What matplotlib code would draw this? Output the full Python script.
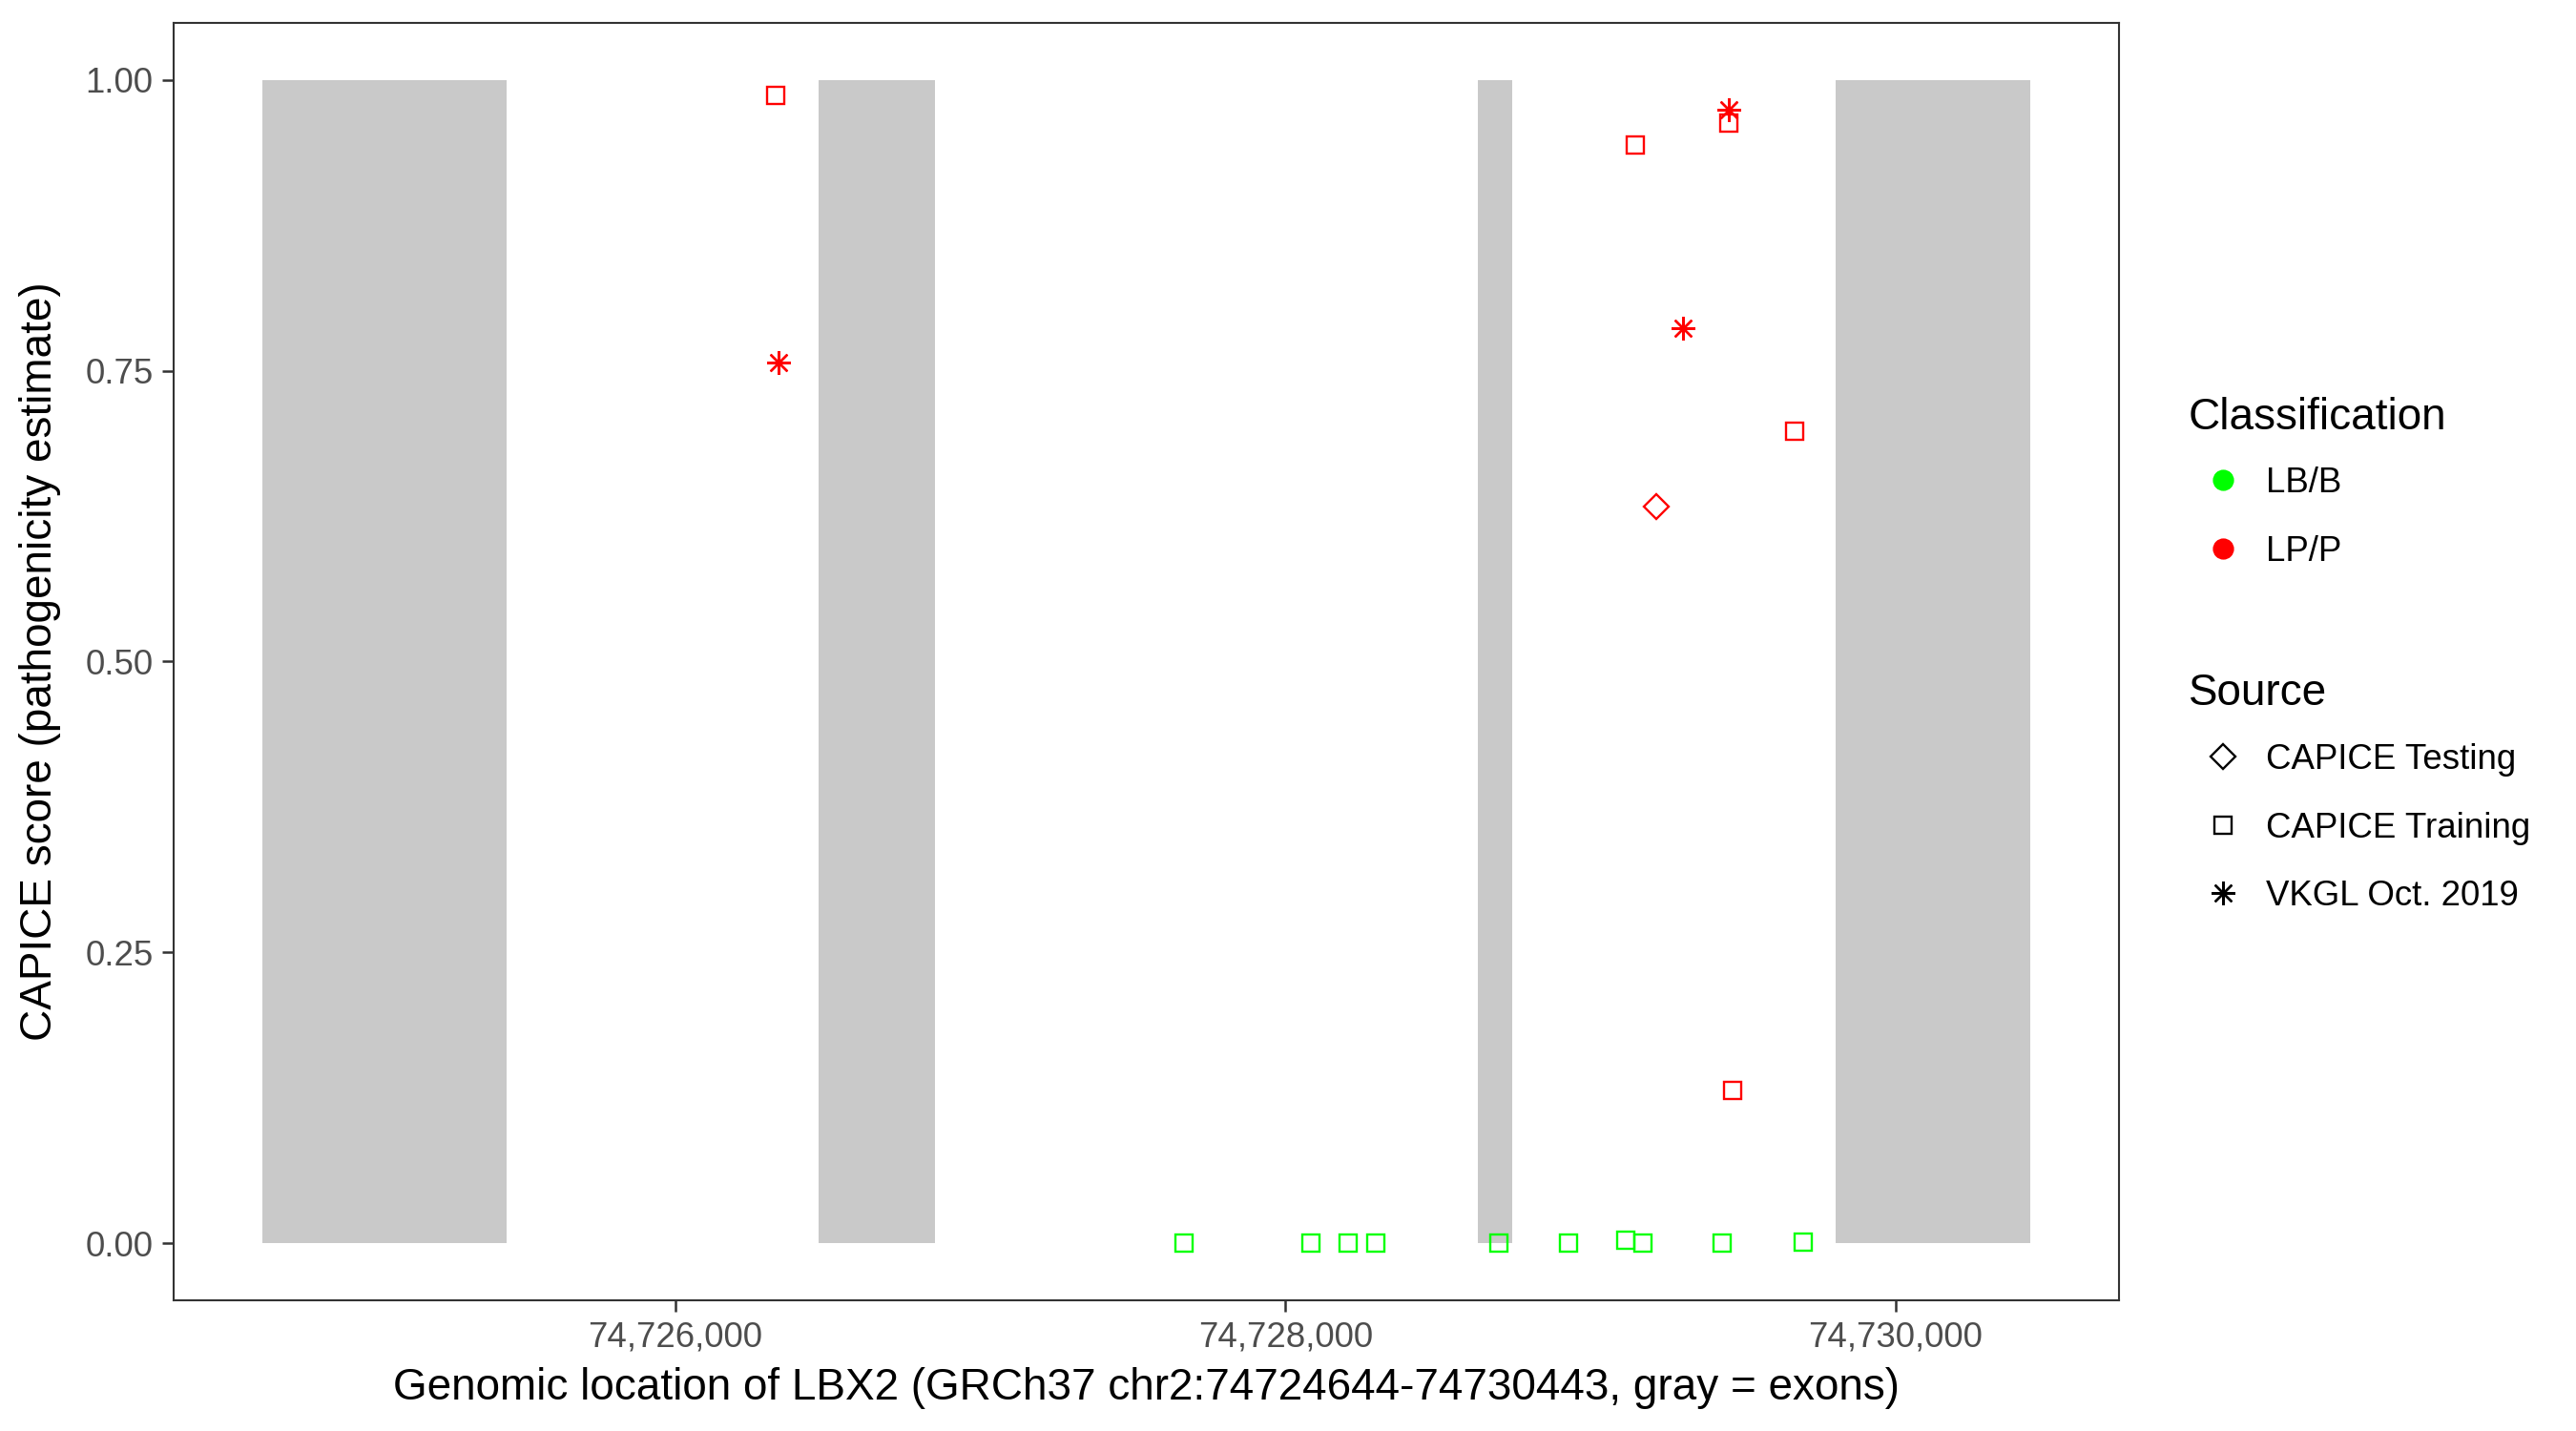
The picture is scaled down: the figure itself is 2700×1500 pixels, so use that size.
import matplotlib
matplotlib.use("Agg")
import matplotlib.pyplot as plt
from matplotlib.lines import Line2D
from matplotlib.ticker import FuncFormatter

plt.rcParams['font.family'] = ['Liberation Sans', 'DejaVu Sans']

# Exons (gray rectangles)
exon_start = [74724644, 74726468, 74728631, 74729803]
exon_end = [74725447, 74726850, 74728744, 74730443]

# Variants
lb_pos = [74727667, 74728082, 74728205, 74728296, 74728701, 74728929,
          74729117, 74729171, 74729430, 74729696]
lb_score = [0.0, 0.0, 0.0, 0.0, 0.0, 0.0, 0.003, 0.0, 0.0, 0.001]
lb_source = ["CAPICE Training"] * 10

lp_pos = [74726329, 74729147, 74729454, 74729668, 74729465,
          74726339, 74729304, 74729453, 74729216]
lp_score = [0.987, 0.944, 0.963, 0.698, 0.131,
            0.757, 0.787, 0.974, 0.633]
lp_source = ["CAPICE Training"] * 5 + ["VKGL Oct. 2019"] * 3 + ["CAPICE Testing"]

x_ticks = [74726000, 74728000, 74730000]
y_ticks = [0.0, 0.25, 0.5, 0.75, 1.0]

class_colors = {"LB/B": "#00FF00", "LP/P": "#FF0000"}
source_markers = {"CAPICE Testing": "D", "CAPICE Training": "s", "VKGL Oct. 2019": (8, 2, 0)}
marker_sizes = {"CAPICE Testing": 6.4, "CAPICE Training": 6.4, "VKGL Oct. 2019": 9.0}

TITLE = 16.5
TEXT = 13.2

fig = plt.figure(figsize=(13.5, 7.5), dpi=200)
ax = fig.add_axes([182 / 2700, 137 / 1500, (2221 - 182) / 2700, (1363 - 24) / 1500])

for s, e in zip(exon_start, exon_end):
    ax.fill_between([s, e], [0, 0], [1, 1], color="#C9C9C9", linewidth=0, zorder=1)

def draw(pos, score, source, color):
    for src in source_markers:
        xs = [p for p, q in zip(pos, source) if q == src]
        ys = [v for v, q in zip(score, source) if q == src]
        if xs:
            ax.plot(xs, ys, linestyle="none", marker=source_markers[src],
                    markersize=marker_sizes[src], markerfacecolor="none",
                    markeredgecolor=color, markeredgewidth=0.85, color=color, zorder=3)

draw(lb_pos, lb_score, lb_source, class_colors["LB/B"])
draw(lp_pos, lp_score, lp_source, class_colors["LP/P"])

span = exon_end[-1] - exon_start[0]
ax.set_xlim(exon_start[0] - 0.05 * span, exon_end[-1] + 0.05 * span)
ax.set_ylim(-0.049, 1.049)
ax.set_xticks(x_ticks)
ax.set_yticks(y_ticks)
ax.xaxis.set_major_formatter(FuncFormatter(lambda v, p: f"{int(v):,}"))
ax.yaxis.set_major_formatter(FuncFormatter(lambda v, p: f"{v:.2f}"))
ax.tick_params(axis="both", labelsize=TEXT, colors="#333333", labelcolor="#4D4D4D",
               length=4.4, width=0.9, pad=3.3)
for sp in ax.spines.values():
    sp.set_color("#333333")
    sp.set_linewidth(0.75)

ax.set_xlabel("Genomic location of LBX2 (GRCh37 chr2:74724644-74730443, gray = exons)",
              fontsize=TITLE, color="black", labelpad=4.9)
ax.set_ylabel("CAPICE score (pathogenicity estimate)", fontsize=TITLE, color="black", labelpad=9)

# Legend titles as text, legend entries as legends
fig.text(2294 / 2700, 1 - 438 / 1500, "Classification", fontsize=TITLE,
         ha="left", va="center", color="black")
fig.text(2294 / 2700, 1 - 727 / 1500, "Source", fontsize=TITLE,
         ha="left", va="center", color="black")

common = dict(loc="upper left", frameon=False, fontsize=TEXT, labelspacing=1.0,
              handletextpad=0.25, handlelength=1.96, borderpad=0, borderaxespad=0)
h1 = [Line2D([], [], linestyle="none", marker="o", markersize=7,
             markerfacecolor=c, markeredgecolor=c) for c in class_colors.values()]
leg1 = fig.legend(h1, list(class_colors.keys()),
                  bbox_to_anchor=(2294 / 2700, 1 - 489 / 1500), **common)
h2 = [Line2D([], [], linestyle="none", marker=source_markers[k],
             markersize=marker_sizes[k], markerfacecolor="none",
             markeredgecolor="black", markeredgewidth=0.85) for k in source_markers]
leg2 = fig.legend(h2, list(source_markers.keys()),
                  bbox_to_anchor=(2294 / 2700, 1 - 779 / 1500), **common)

fig.savefig("out.png", dpi=200, facecolor="white")
